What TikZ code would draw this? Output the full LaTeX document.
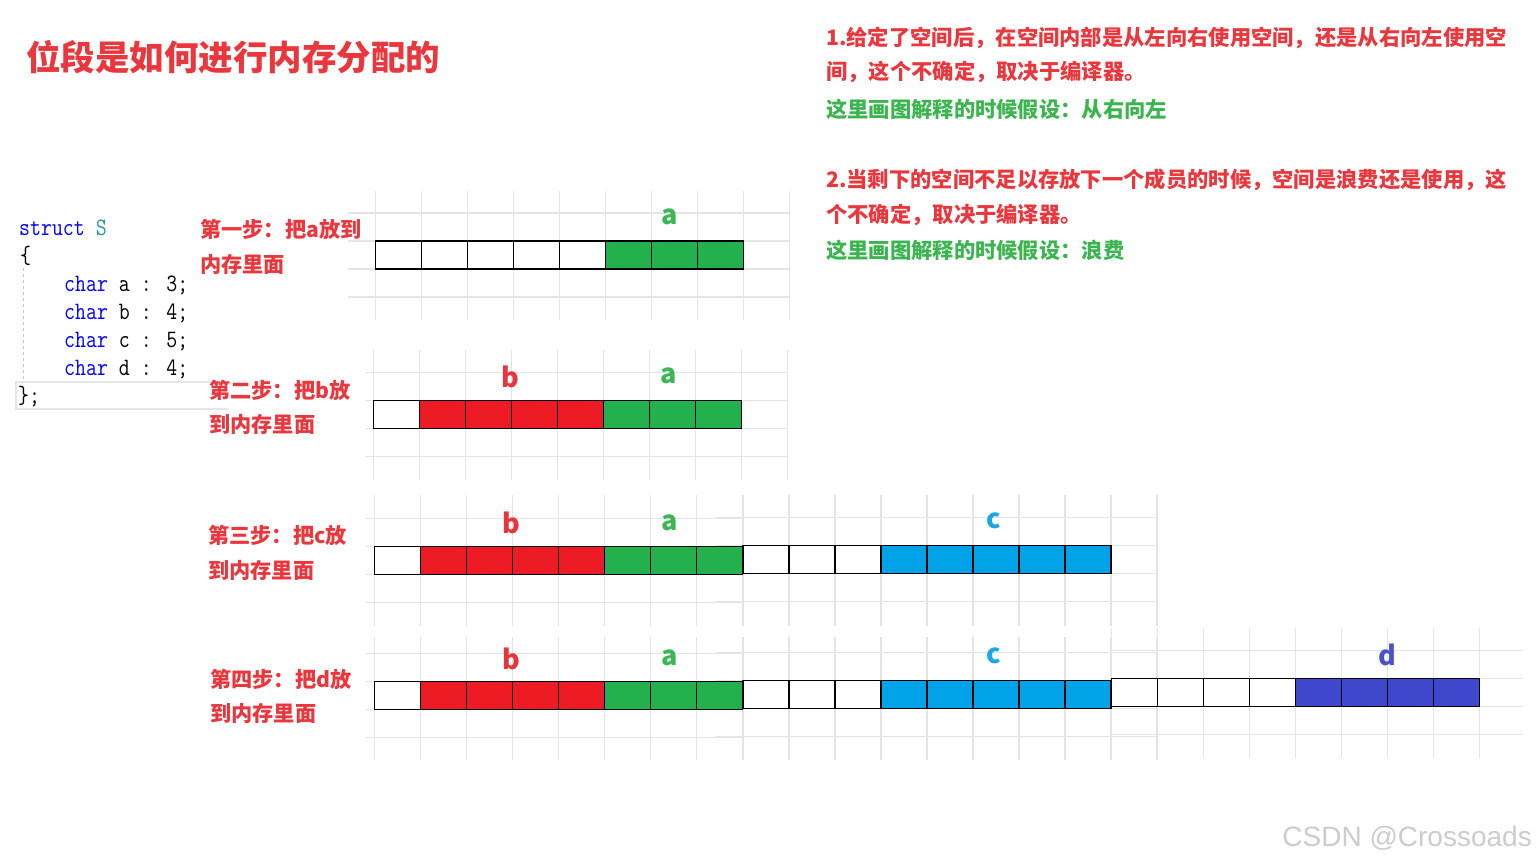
\documentclass[tikz,border=0pt]{standalone}
\usepackage{fontspec}
\usepackage{tikz}
\usepackage{xcolor}
\newfontfamily\cjk{Noto Sans CJK SC}
\newfontfamily\wmfont{Liberation Sans}
\newfontfamily\codefont{Latin Modern Mono}[FakeStretch=0.85]
\definecolor{cellred}{HTML}{ED1C24}
\definecolor{cellgreen}{HTML}{22B14C}
\definecolor{cellblue}{HTML}{00A2E8}
\definecolor{cellindigo}{HTML}{3F48CC}
\definecolor{textred}{HTML}{E9373D}
\definecolor{textgreen}{HTML}{3CB550}
\definecolor{labgreen}{HTML}{3DB655}
\definecolor{labred}{HTML}{E8343C}
\definecolor{labblue}{HTML}{1BA6E6}
\definecolor{labindigo}{HTML}{4A52CB}
\definecolor{gridgray}{HTML}{E4E4E4}
\definecolor{kwblue}{HTML}{0000FF}
\definecolor{typeteal}{HTML}{2B91AF}
\definecolor{linebox}{HTML}{E4E4EE}
\tikzset{
    grid-line/.style = {draw=gridgray, line width=1.1pt},
    cell-box/.style = {draw=black, line width=1.3pt},
    title-text/.style = {text=textred, font=\cjk\bfseries\fontsize{34.5}{40}\selectfont, anchor=west, inner sep=0pt},
    step-text/.style = {text=textred, font=\cjk\bfseries\fontsize{21.2}{26}\selectfont, anchor=west, inner sep=0pt},
    note-text/.style = {font=\cjk\bfseries\fontsize{21.3}{26}\selectfont, anchor=west, inner sep=0pt},
    field-label/.style = {font=\cjk\bfseries\fontsize{27}{30}\selectfont, inner sep=0pt},
    code-text/.style = {font=\codefont\fontsize{25}{28}\selectfont, anchor=base west, inner sep=0pt},
    watermark/.style = {text=gray!40, font=\wmfont\fontsize{28}{30}\selectfont, anchor=east, inner sep=0pt},
}
% one patch of the squared paper: #1,#2 x range of the rows, #3 first column, #4 columns,
% #5,#6 y range of the columns, #7 first row
\newcommand\gridpatch[7]{%
  \foreach \k in {0,...,3} \draw[grid-line] (#1,#7+28*\k) -- (#2,#7+28*\k);
  \foreach \j in {1,...,#4} \draw[grid-line] (#3+46*\j-46,#5) -- (#3+46*\j-46,#6);}
% a run of bit cells starting at (#1,#2)
\newcommand\memcells[3]{%
  \foreach \c [count=\k from 0] in {#3} \draw[cell-box, fill=\c] (#1+46*\k,#2) rectangle ++(46,28);}

\begin{document}
\begin{tikzpicture}[x=1pt, y=-1pt]
\fill[white] (0,0) rectangle (1536,864);
\useasboundingbox (0,0) rectangle (1536,864);

\node[title-text] (title) at (26,57) {位段是如何进行内存分配的};

% notes
\foreach \y/\c/\t [count=\i] in {
    38/textred/1.给定了空间后，在空间内部是从左向右使用空间，还是从右向左使用空,
    72/textred/间，这个不确定，取决于编译器。,
    109/textgreen/这里画图解释的时候假设：从右向左,
    180/textred/2.当剩下的空间不足以存放下一个成员的时候，空间是浪费还是使用，这,
    215/textred/个不确定，取决于编译器。,
    250/textgreen/这里画图解释的时候假设：浪费}
  \node[note-text, text=\c] (note\i) at (826,\y) {\t};

% the struct
\draw[linebox, line width=2.5pt] (228,382) -| (16,409) -- (228,409);
\draw[gray!45, dashed, line width=0.8pt] (23,268) -- (23,380);
\node[code-text] (kw-struct) at (19,235) {\textcolor{kwblue}{struct} \textcolor{typeteal}{S}};
\node[code-text] (brace-open) at (20,263) {\{};
\foreach \f/\w [count=\i] in {a/3,b/4,c/5,d/4}
  \node[code-text] (field-\f) at (64,263+28*\i) {\textcolor{kwblue}{char} \f{} : \w;};
\node[code-text] (brace-close) at (18,403) {\};};

% step captions
\foreach \x/\y/\first/\second [count=\i] in {
    200/229.7/第一步：把a放到/内存里面,
    209/390/第二步：把b放/到内存里面,
    208/535.8/第三步：把c放/到内存里面,
    210/679/第四步：把d放/到内存里面} {
  \node[step-text] (step\i) at (\x,\y) {\first};
  \node[step-text] (step\i-b) at (\x,\y+34.5) {\second};
}

% squared paper
\gridpatch{348}{790}{375.5}{10}{191}{320}{213}
\gridpatch{365}{788}{373.3}{10}{350}{480}{372.3}
\gridpatch{366}{743}{374.3}{9}{495}{626}{518.3}
\gridpatch{716}{1158}{743}{10}{495}{626}{517.3}
\gridpatch{366}{743}{374.3}{9}{637}{760}{653.3}
\gridpatch{716}{1158}{743}{10}{637}{760}{652.3}
\gridpatch{1111}{1523}{1111.3}{9}{628}{758}{650.7}

% bit cells
\memcells{375.5}{241}{white,white,white,white,white,cellgreen,cellgreen,cellgreen}
\memcells{373.3}{400.3}{white,cellred,cellred,cellred,cellred,cellgreen,cellgreen,cellgreen}
\memcells{374.3}{546.5}{white,cellred,cellred,cellred,cellred,cellgreen,cellgreen,cellgreen}
\memcells{743}{545.5}{white,white,white,cellblue,cellblue,cellblue,cellblue,cellblue}
\memcells{374.3}{681.5}{white,cellred,cellred,cellred,cellred,cellgreen,cellgreen,cellgreen}
\memcells{743}{680.5}{white,white,white,cellblue,cellblue,cellblue,cellblue,cellblue}
\memcells{1111.3}{678.3}{white,white,white,white,cellindigo,cellindigo,cellindigo,cellindigo}

% member names
\foreach \f/\c/\x/\y [count=\i] in {
    a/labgreen/670/216.7,
    b/labred/510.7/377.3, a/labgreen/668.3/375.7,
    b/labred/511.7/523.3, a/labgreen/669.3/522.7, c/labblue/994/520.7,
    b/labred/511.7/658.8, a/labgreen/669.3/658, c/labblue/994/656, d/labindigo/1387.3/655}
  \node[field-label, text=\c] (lbl\i) at (\x,\y) {\f};

\node[watermark] (csdn) at (1532,838) {CSDN @Crossoads};
\end{tikzpicture}
\end{document}
